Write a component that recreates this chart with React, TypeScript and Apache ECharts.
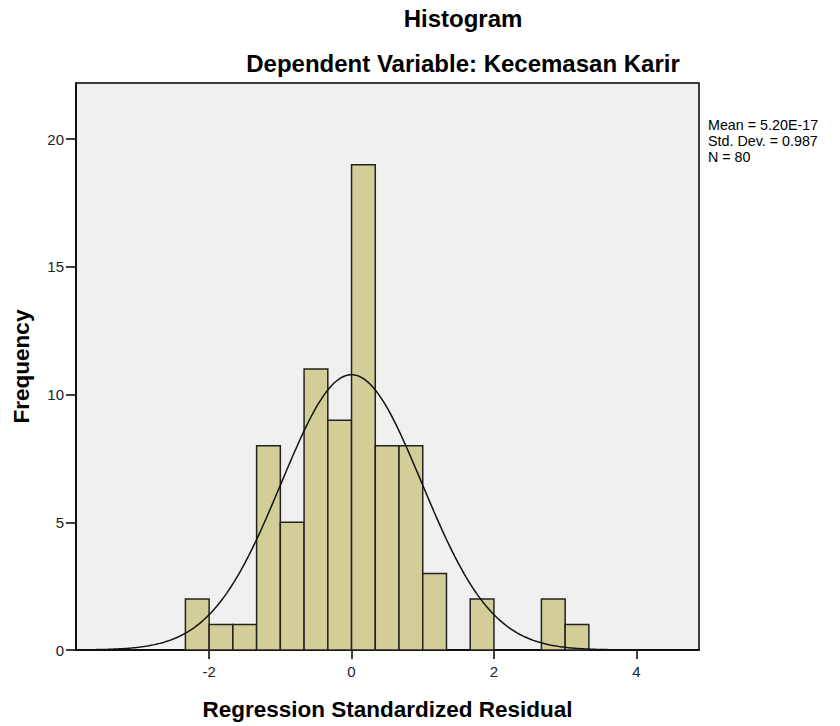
import React, { useEffect, useRef } from "react";
import * as echarts from "echarts";

// Histogram bins (width 1/3, starting at -7/3)
const binStart = -7 / 3;
const binWidth = 1 / 3;
const counts = [2, 1, 1, 8, 5, 11, 9, 19, 8, 8, 3, 0, 2, 0, 0, 2, 1];

// Summary statistics shown on the chart
const meanValue = 5.2e-17;
const stdDev = 0.987;
const nCases = 80;
const statLines = ["Mean = 5.20E-17", "Std. Dev. = 0.987", "N = 80"];

// Axis settings
const xMin = -3.87;
const xMax = 4.88;
const yMax = 22.2;
const xTicks = [-2, 0, 2, 4];
const yTicks = [0, 5, 10, 15, 20];

const FONT = "'Liberation Sans', Arial, sans-serif";

export default function App() {
  const ref = useRef<HTMLDivElement>(null);

  useEffect(() => {
    if (!ref.current) return;
    const chart = echarts.init(ref.current, undefined, { renderer: "svg" });

    const bars = counts
      .map((c, i) => [binStart + i * binWidth, binStart + (i + 1) * binWidth, c])
      .filter((d) => d[2] > 0);

    // Fitted normal curve from the displayed mean, std. dev. and N
    const curve: number[][] = [];
    const scale = (nCases * binWidth) / (stdDev * Math.sqrt(2 * Math.PI));
    for (let k = 0; k <= 350; k++) {
      const x = xMin + ((xMax - xMin) * k) / 350;
      const z = (x - meanValue) / stdDev;
      curve.push([x, scale * Math.exp(-0.5 * z * z)]);
    }

    chart.setOption({
      animation: false,
      backgroundColor: "#ffffff",
      textStyle: { fontFamily: FONT },
      grid: {
        left: 76,
        right: 141,
        top: 83,
        bottom: 73,
        show: true,
        backgroundColor: "#f0f0f0",
        borderColor: "#000000",
        borderWidth: 1.5,
      },
      xAxis: {
        type: "value",
        min: xMin,
        max: xMax,
        name: "Regression Standardized Residual",
        nameLocation: "middle",
        nameGap: 48,
        nameTextStyle: { fontSize: 22.5, fontWeight: "bold", color: "#000", fontFamily: FONT },
        axisLine: { show: true, onZero: false, lineStyle: { color: "#000", width: 1.5 } },
        axisTick: { show: true, length: 9, customValues: xTicks, lineStyle: { color: "#000", width: 1.5 } },
        axisLabel: {
          customValues: xTicks,
          margin: 14,
          fontSize: 15,
          color: "#222",
          fontFamily: FONT,
          formatter: (v: number) => String(v),
        },
        splitLine: { show: false },
      },
      yAxis: {
        type: "value",
        min: 0,
        max: yMax,
        name: "Frequency",
        nameLocation: "middle",
        nameGap: 43,
        nameRotate: 90,
        nameTextStyle: { fontSize: 22.5, fontWeight: "bold", color: "#000", fontFamily: FONT },
        axisLine: { show: true, onZero: false, lineStyle: { color: "#000", width: 1.5 } },
        axisTick: { show: true, length: 10, customValues: yTicks, lineStyle: { color: "#000", width: 1.5 } },
        axisLabel: {
          customValues: yTicks,
          margin: 12,
          fontSize: 15,
          color: "#222",
          fontFamily: FONT,
          formatter: (v: number) => String(v),
        },
        splitLine: { show: false },
      },
      series: [
        {
          type: "custom",
          data: bars,
          encode: { x: [0, 1], y: 2 },
          renderItem: (params: any, api: any) => {
            const p0 = api.coord([api.value(0), api.value(2)]);
            const p1 = api.coord([api.value(1), 0]);
            return {
              type: "rect",
              shape: { x: p0[0], y: p0[1], width: p1[0] - p0[0], height: p1[1] - p0[1] },
              style: { fill: "#d3ce97", stroke: "#222", lineWidth: 1.5 },
            };
          },
          z: 2,
        },
        {
          type: "line",
          data: curve,
          showSymbol: false,
          symbol: "none",
          lineStyle: { color: "#111", width: 1.5 },
          z: 3,
        },
      ],
      graphic: [
        {
          type: "text",
          x: 463,
          y: 18,
          style: {
            text: "Histogram",
            font: `bold 24px ${FONT}`,
            fill: "#000",
            textAlign: "center",
            textVerticalAlign: "middle",
          },
        },
        {
          type: "text",
          x: 463,
          y: 63,
          style: {
            text: "Dependent Variable: Kecemasan Karir",
            font: `bold 24px ${FONT}`,
            fill: "#000",
            textAlign: "center",
            textVerticalAlign: "middle",
          },
        },
        ...statLines.map((t, i) => ({
          type: "text",
          x: 708,
          y: 125 + i * 16,
          style: {
            text: t,
            font: `14.3px ${FONT}`,
            fill: "#000",
            textAlign: "left",
            textVerticalAlign: "middle",
          },
        })),
      ],
    });

    return () => chart.dispose();
  }, []);

  return (
    <div
      ref={ref}
      style={{ position: "fixed", left: 0, top: 0, width: 840, height: 726 }}
    />
  );
}
